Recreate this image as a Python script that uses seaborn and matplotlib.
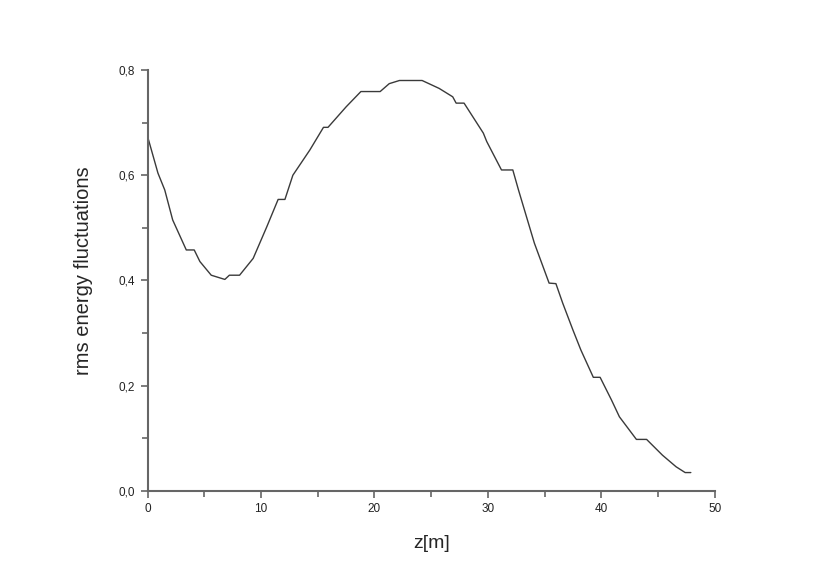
import seaborn as sns
import matplotlib.pyplot as plt
from matplotlib.ticker import MultipleLocator, FuncFormatter

# values
z_m = [0.0, 0.1, 0.9, 1.5, 2.2, 3.4, 4.1, 4.6, 5.6, 6.8, 7.2, 8.1, 9.3, 10.5,
       11.5, 12.1, 12.8, 14.3, 15.5, 15.9, 17.5, 18.8, 20.5, 21.3, 22.2, 24.2,
       25.7, 26.9, 27.2, 27.9, 29.6, 29.9, 31.2, 32.2, 32.7, 34.1, 35.4, 36.0,
       36.6, 37.5, 38.2, 39.3, 39.9, 40.9, 41.6, 43.1, 44.0, 45.4, 46.6, 47.4,
       47.9]
rms = [0.672, 0.665, 0.604, 0.572, 0.515, 0.458, 0.458, 0.436, 0.410, 0.402,
       0.410, 0.410, 0.442, 0.502, 0.554, 0.554, 0.600, 0.648, 0.691, 0.691,
       0.730, 0.759, 0.759, 0.774, 0.780, 0.780, 0.765, 0.749, 0.737, 0.737,
       0.680, 0.664, 0.610, 0.610, 0.572, 0.471, 0.395, 0.394, 0.357, 0.306,
       0.268, 0.216, 0.216, 0.173, 0.141, 0.098, 0.098, 0.068, 0.046, 0.035,
       0.035]

sns.set_style("ticks")
plt.rcParams['font.family'] = ['Liberation Sans', 'DejaVu Sans']

fig = plt.figure(figsize=(8.3, 5.88), dpi=100)
ax = fig.add_axes([0.178, 0.165, 0.683, 0.716])

sns.lineplot(x=z_m, y=rms, ax=ax, sort=False, estimator=None,
             color='#3a3a3a', linewidth=1.0)

ax.set_xlim(0, 50)
ax.set_ylim(0, 0.8)
ax.xaxis.set_major_locator(MultipleLocator(10))
ax.xaxis.set_minor_locator(MultipleLocator(5))
ax.yaxis.set_major_locator(MultipleLocator(0.2))
ax.yaxis.set_minor_locator(MultipleLocator(0.1))
ax.yaxis.set_major_formatter(FuncFormatter(lambda v, p: f"{v:.1f}".replace('.', ',')))

for side in ['top', 'right']:
    ax.spines[side].set_visible(False)
for side in ['left', 'bottom']:
    ax.spines[side].set_color('#666666')
    ax.spines[side].set_linewidth(1.5)

ax.tick_params(which='major', length=5, width=1.2, color='#666666',
               labelsize=8.5, labelcolor='#222222', pad=4)
ax.tick_params(which='minor', length=4, width=1.2, color='#666666')

ax.set_xlabel('z[m]', fontsize=14, labelpad=14)
ax.set_ylabel('rms energy fluctuations', fontsize=14.5)
ax.yaxis.set_label_coords(-0.097, 0.523)

fig.savefig('out.png', dpi=100)
